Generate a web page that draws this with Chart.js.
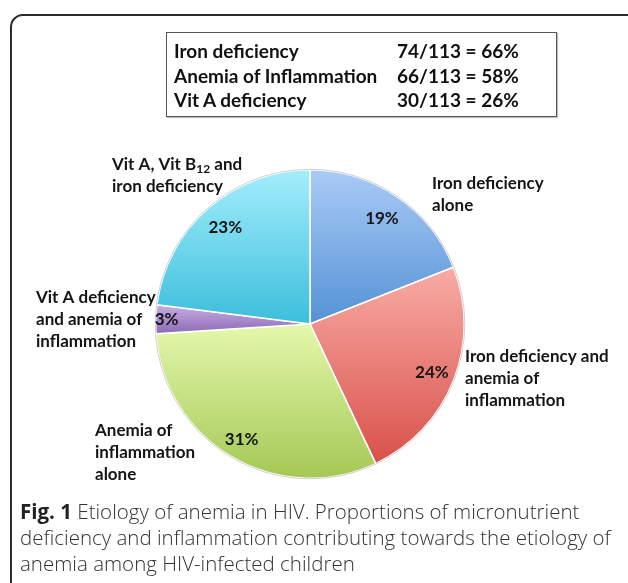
<!DOCTYPE html>
<html>
<head>
<meta charset="utf-8">
<script src="https://cdn.jsdelivr.net/npm/chart.js@4.4.1/dist/chart.umd.min.js"></script>
<style>
    html, body { margin: 0; padding: 0; background: #fff; }
    body { width: 628px; height: 583px; position: relative; overflow: hidden; }
    .frame {
        position: absolute; left: 10px; top: 14px; width: 700px; height: 700px;
        border: 2px solid #2a2a2a; border-radius: 13px;
    }
    .summary {
        position: absolute; left: 166px; top: 32px; width: 389px; height: 83px;
        border: 1px solid #555; box-shadow: 1px 1px 1px rgba(0,0,0,0.25);
        font: bold 19px Lato, sans-serif; color: #111;
    }
    .summary div { position: absolute; left: 7px; white-space: nowrap; }
    .summary span { position: absolute; left: 223px; }
    #chart { position: absolute; left: 0; top: 0; }
    .caption {
        position: absolute; left: 20px; top: 498px; width: 610px;
        font: 300 20.5px "Open Sans", sans-serif; color: #333; line-height: 26px;
    }
    .caption b { color: #222; font-weight: bold; }
</style>
</head>
<body>
<div class="frame"></div>
<canvas id="chart" width="628" height="583"></canvas>
<div class="summary" id="summary"></div>
<div class="caption"><b>Fig. 1</b> Etiology of anemia in HIV. Proportions of micronutrient<br>deficiency and inflammation contributing towards the etiology of<br>anemia among HIV-infected children</div>

<script>
// slices, clockwise from 12 o'clock
const categories = [
    'Iron deficiency alone',
    'Iron deficiency and anemia of inflammation',
    'Anemia of inflammation alone',
    'Vit A deficiency and anemia of inflammation',
    'Vit A, Vit B12 and iron deficiency'
];
const percents = [19, 24, 31, 3, 23];

// summary box
const summaryLabels = ['Iron deficiency', 'Anemia of Inflammation', 'Vit A deficiency'];
const summaryValues = ['74/113 = 66%', '66/113 = 58%', '30/113 = 26%'];

// gradient colours (top -> bottom of each slice)
const topColors = ['#aacbf7', '#f8aca5', '#e4f8ab', '#c9aee6', '#a4eefc'];
const bottomColors = ['#5492d5', '#d8514a', '#a4c855', '#8c6ab3', '#3cbedc'];

// where the % sits along the slice middle, as share of the radius
const pctRadius = [0.83, 0.85, 0.87, 0.93, 0.83];

// name labels outside the pie: lines + left x + first line centre y
const nameLabels = [
    { lines: ['Iron deficiency', 'alone'], x: 432, y: 184 },
    { lines: ['Iron deficiency and', 'anemia of', 'inflammation'], x: 465, y: 357 },
    { lines: ['Anemia of', 'inflammation', 'alone'], x: 95, y: 431 },
    { lines: ['Vit A deficiency', 'and anemia of', 'inflammation'], x: 36, y: 298 },
    { lines: ['Vit A, Vit B|12| and', 'iron deficiency'], x: 112, y: 165 }
];

const summary = document.getElementById('summary');
summaryLabels.forEach(function(lbl, i) {
    const row = document.createElement('div');
    row.style.top = (6 + i * 24.5) + 'px';
    row.textContent = lbl;
    const v = document.createElement('span');
    v.textContent = summaryValues[i];
    row.appendChild(v);
    summary.appendChild(row);
});

function sliceGradient(context) {
    const chart = context.chart;
    const area = chart.chartArea;
    const i = context.dataIndex;
    if (!area) return topColors[i];
    const cx = (area.left + area.right) / 2;
    const cy = (area.top + area.bottom) / 2;
    const r = Math.min(area.right - area.left, area.bottom - area.top) / 2;
    const total = percents.reduce((a, b) => a + b, 0);
    let before = 0;
    for (let k = 0; k < i; k++) before += percents[k];
    const a0 = -Math.PI / 2 + before / total * Math.PI * 2;
    const a1 = a0 + percents[i] / total * Math.PI * 2;
    const ys = [cy, cy + r * Math.sin(a0), cy + r * Math.sin(a1)];
    [-Math.PI / 2, Math.PI / 2, Math.PI * 1.5].forEach(function(t) {
        if (t >= a0 - 1e-6 && t <= a1 + 1e-6) ys.push(cy + r * Math.sin(t));
    });
    const g = chart.ctx.createLinearGradient(0, Math.min.apply(null, ys), 0, Math.max.apply(null, ys));
    g.addColorStop(0, topColors[i]);
    g.addColorStop(1, bottomColors[i]);
    return g;
}

const FONT = 'bold 17px Lato, sans-serif';

const labelPlugin = {
    id: 'pieLabels',
    afterDatasetsDraw(chart) {
        const ctx = chart.ctx;
        const meta = chart.getDatasetMeta(0);
        ctx.save();

        // faint rim round the pie
        const a = meta.data[0];
        ctx.beginPath();
        ctx.arc(a.x, a.y, a.outerRadius + 0.5, 0, Math.PI * 2);
        ctx.strokeStyle = 'rgba(120,120,120,0.35)';
        ctx.lineWidth = 1;
        ctx.stroke();

        ctx.fillStyle = '#151515';
        ctx.font = FONT;
        ctx.textAlign = 'center';
        ctx.textBaseline = 'middle';
        meta.data.forEach(function(arc, i) {
            const mid = (arc.startAngle + arc.endAngle) / 2;
            const d = arc.outerRadius * pctRadius[i];
            ctx.fillText(percents[i] + '%', arc.x + Math.cos(mid) * d, arc.y + Math.sin(mid) * d);
        });

        ctx.textAlign = 'left';
        nameLabels.forEach(function(lb) {
            lb.lines.forEach(function(line, j) {
                const y = lb.y + j * 22;
                const parts = line.split('|');
                let x = lb.x;
                parts.forEach(function(p, k) {
                    if (k % 2 === 1) {
                        ctx.font = 'bold 12px Lato, sans-serif';
                        ctx.fillText(p, x, y + 4);
                    } else {
                        ctx.font = FONT;
                        ctx.fillText(p, x, y);
                    }
                    x += ctx.measureText(p).width;
                });
                ctx.font = FONT;
            });
        });
        ctx.restore();
    }
};

new Chart(document.getElementById('chart'), {
    type: 'pie',
    data: {
        labels: categories,
        datasets: [{
            data: percents,
            backgroundColor: sliceGradient,
            borderColor: '#ffffff',
            borderWidth: 1.5,
            hoverOffset: 0
        }]
    },
    options: {
        responsive: false,
        animation: false,
        events: [],
        layout: { padding: { left: 155, right: 163, top: 169, bottom: 104 } },
        plugins: {
            legend: { display: false },
            tooltip: { enabled: false }
        }
    },
    plugins: [labelPlugin]
});
</script>
</body>
</html>
